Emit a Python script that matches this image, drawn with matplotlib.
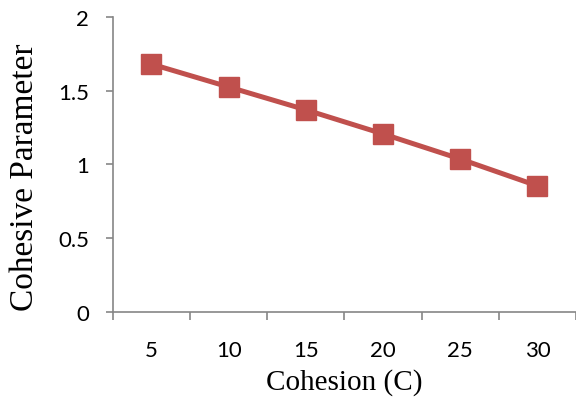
import matplotlib.pyplot as plt
from matplotlib.ticker import FixedLocator, NullFormatter

# cohesion values and the resulting parameter
cohesion = ['5', '10', '15', '20', '25', '30']
parameter = [1.68, 1.525, 1.37, 1.207, 1.037, 0.855]

RED = '#C0504D'
GREY = '#868686'

fig = plt.figure(figsize=(5.76, 4.06), dpi=100)
ax = fig.add_axes([0.196, 0.229, 0.804, 0.727])

pos = list(range(1, len(cohesion) + 1))
ax.plot(pos, parameter, '-s', color=RED, lw=3.6, ms=14.4,
        markeredgecolor=RED, clip_on=False)

ax.set_xlim(0.5, len(cohesion) + 0.5)
ax.set_ylim(0, 2)
ax.set_yticks([0, 0.5, 1, 1.5, 2])
ax.set_yticklabels(['0', '0.5', '1', '1.5', '2'])

# Excel-style category axis: ticks between categories, labels centred
ax.xaxis.set_major_locator(FixedLocator([p - 0.5 for p in pos] + [pos[-1] + 0.5]))
ax.xaxis.set_major_formatter(NullFormatter())
ax.xaxis.set_minor_locator(FixedLocator(pos))
ax.set_xticklabels(cohesion, minor=True)
ax.tick_params(axis='x', which='major', length=6, width=1.2, color=GREY)
ax.tick_params(axis='x', which='minor', length=0, pad=20, labelsize=16)
ax.tick_params(axis='y', length=5, width=1.2, color=GREY, pad=12, labelsize=16)
for lab in ax.get_xticklabels(minor=True) + ax.get_yticklabels():
    lab.set_family('Lato')

for side in ['top', 'right']:
    ax.spines[side].set_visible(False)
for side in ['left', 'bottom']:
    ax.spines[side].set_color(GREY)
    ax.spines[side].set_linewidth(1.2)

ax.set_xlabel('Cohesion (C)', family='Liberation Serif', fontsize=21, labelpad=6)
ax.set_ylabel('Cohesive Parameter', family='Liberation Serif', fontsize=24)
ax.yaxis.set_label_coords(-0.157, 0.46)

fig.savefig('out.png', dpi=100)
